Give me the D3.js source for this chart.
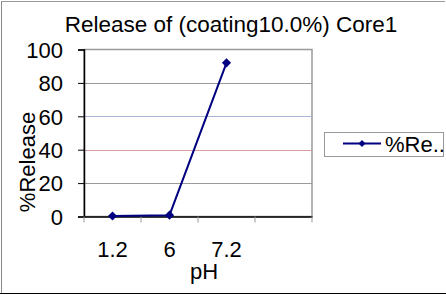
<!DOCTYPE html>
<html>
<head>
<meta charset="utf-8" />
<title>Release of (coating10.0%) Core1</title>
<script src="https://cdn.jsdelivr.net/npm/d3@7"></script>
<style>
    body { margin: 0; background: #fff; }
    text { font-family: "Liberation Sans", Arial, sans-serif; fill: #000; }
</style>
</head>
<body>
<div id="chart"></div>
<script>
// data
var categories = ["1.2", "6", "7.2", ""];
var releaseValues = [0.3, 0.8, 92];
var yTicks = [0, 20, 40, 60, 80, 100];
var seriesName = "%Re..";

var W = 446, H = 295;
var svg = d3.select("#chart").append("svg")
    .attr("width", W).attr("height", H);

// outer frame
svg.append("rect").attr("x", 0).attr("y", 0).attr("width", W).attr("height", H).attr("fill", "#fff");
svg.append("line").attr("x1", 1.5).attr("x2", 1.5).attr("y1", 1).attr("y2", 293).attr("stroke", "#888");
svg.append("line").attr("x1", 1).attr("x2", 445).attr("y1", 1.5).attr("y2", 1.5).attr("stroke", "#999");
svg.append("line").attr("x1", 0).attr("x2", W).attr("y1", 293.5).attr("y2", 293.5).attr("stroke", "#000");

var plot = { left: 84, right: 312, top: 49.5, bottom: 216.5 };
var fs = "22px";

var x = d3.scaleBand().domain(categories).range([plot.left, plot.right]);
var y = d3.scaleLinear().domain([0, 100]).range([plot.bottom, plot.top]);

// plot area border
svg.append("rect")
    .attr("x", plot.left).attr("y", plot.top)
    .attr("width", plot.right - plot.left).attr("height", plot.bottom - plot.top)
    .attr("fill", "none").attr("stroke", "#999").attr("stroke-width", 1.5);

// gridlines (colours as they look in the picture)
var gridColor = { 20: "#9a9a9a", 40: "#d49c9c", 60: "#a8b4d4", 80: "#9a9a9a" };
svg.selectAll(".grid").data(yTicks.filter(function (d) { return d > 0 && d < 100; }))
    .enter().append("line")
    .attr("x1", plot.left).attr("x2", plot.right)
    .attr("y1", function (d) { return Math.round(y(d)) + 0.5; })
    .attr("y2", function (d) { return Math.round(y(d)) + 0.5; })
    .attr("stroke", function (d) { return gridColor[d]; });

// y axis
var yAxis = svg.append("g").attr("transform", "translate(" + plot.left + ",0)")
    .call(d3.axisLeft(y).tickValues(yTicks).tickSize(6).tickPadding(15));
yAxis.select(".domain").attr("stroke", "#000").attr("stroke-width", 1.5);
yAxis.selectAll(".tick line").attr("stroke", "#000");
yAxis.selectAll(".tick text").style("font-size", fs).attr("dy", "0.35em")
    .attr("font-family", null);

// x axis
var xAxis = svg.append("g").attr("transform", "translate(0," + plot.bottom + ")")
    .call(d3.axisBottom(x).tickSize(0).tickPadding(25));
xAxis.select(".domain").attr("stroke", "#000").attr("stroke-width", 1.5);
xAxis.selectAll(".tick text").style("font-size", fs).attr("font-family", null);
// category boundary tick marks
var bounds = categories.map(function (c) { return x(c); }).concat([plot.right]);
svg.selectAll(".xtick").data(bounds).enter().append("line")
    .attr("x1", function (d) { return d; }).attr("x2", function (d) { return d; })
    .attr("y1", plot.bottom).attr("y2", plot.bottom + 6)
    .attr("stroke", "#999");

// series
var marker = d3.symbol().type(d3.symbolSquare).size(42);
var pts = releaseValues.map(function (v, i) {
    return [x(categories[i]) + x.bandwidth() / 2, y(v)];
});
svg.append("path")
    .attr("d", d3.line()(pts))
    .attr("fill", "none").attr("stroke", "#000080").attr("stroke-width", 2);
svg.selectAll(".pt").data(pts).enter().append("path")
    .attr("transform", function (d) { return "translate(" + d[0] + "," + d[1] + ") rotate(45)"; })
    .attr("d", marker)
    .attr("fill", "#000080");

// titles
svg.append("text").attr("x", 231).attr("y", 32).attr("text-anchor", "middle")
    .style("font-size", "22.5px").text("Release of (coating10.0%) Core1");
svg.append("text").attr("x", 204).attr("y", 279).attr("text-anchor", "middle")
    .style("font-size", fs).text("pH");
svg.append("text").attr("transform", "translate(35,162) rotate(-90)")
    .attr("text-anchor", "middle").style("font-size", fs).text("%Release");

// legend
var lg = svg.append("g");
lg.append("rect").attr("x", 324.5).attr("y", 132.5).attr("width", 119).attr("height", 24)
    .attr("fill", "#fff").attr("stroke", "#999");
lg.append("line").attr("x1", 343).attr("x2", 381).attr("y1", 143.5).attr("y2", 143.5)
    .attr("stroke", "#000080").attr("stroke-width", 2);
lg.append("path").attr("transform", "translate(362,143.5) rotate(45)")
    .attr("d", d3.symbol().type(d3.symbolSquare).size(24)).attr("fill", "#000080");
lg.append("text").attr("x", 385).attr("y", 152).style("font-size", fs).text(seriesName);
</script>
</body>
</html>
